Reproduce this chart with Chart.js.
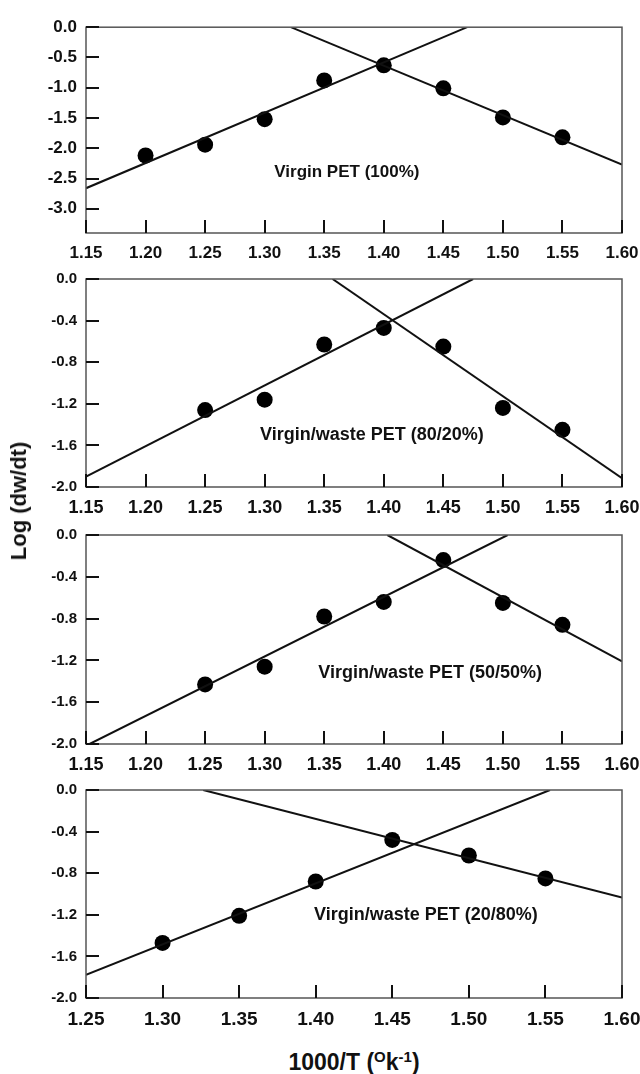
<!DOCTYPE html>
<html lang="en">
<head>
  <meta charset="UTF-8" />
  <title>Log (dw/dt) vs 1000/T</title>
  <script src="https://cdn.jsdelivr.net/npm/chart.js"></script>
  <style>
    html, body { margin: 0; padding: 0; background: #fff; }
    body { width: 640px; height: 1074px; position: relative; overflow: hidden;
           font-family: "Liberation Sans", Arial, sans-serif; color: #111; }
    canvas { position: absolute; left: 0; }
    .title { position: absolute; font-weight: bold; white-space: nowrap; }
    #ytitle { left: 19px; top: 501px; font-size: 22px; transform: translate(-50%, -50%) rotate(-90deg); }
    #xtitle { left: 354px; top: 1062px; font-size: 23px; transform: translate(-50%, -50%); }
    #xtitle sup { font-size: 15px; }
  </style>
</head>
<body>
  <canvas id="p1" width="660" height="261"></canvas>
  <canvas id="p2" width="660" height="262"></canvas>
  <canvas id="p3" width="660" height="263"></canvas>
  <canvas id="p4" width="660" height="262"></canvas>
  <div class="title" id="ytitle">Log (dw/dt)</div>
  <div class="title" id="xtitle">1000/T (<sup>O</sup>k<sup>-1</sup>)</div>

  <script>
    // ticks
    const xTicksA = [1.15, 1.20, 1.25, 1.30, 1.35, 1.40, 1.45, 1.50, 1.55, 1.60];
    const xTicksB = [1.25, 1.30, 1.35, 1.40, 1.45, 1.50, 1.55, 1.60];
    const yTicks100 = [0.0, -0.5, -1.0, -1.5, -2.0, -2.5, -3.0];
    const yTicksMix = [0.0, -0.4, -0.8, -1.2, -1.6, -2.0];

    // measured points
    const temp100 = [1.20, 1.25, 1.30, 1.35, 1.40, 1.45, 1.50, 1.55];
    const rate100 = [-2.12, -1.94, -1.52, -0.88, -0.63, -1.01, -1.49, -1.82];
    const temp8020 = [1.25, 1.30, 1.35, 1.40, 1.45, 1.50, 1.55];
    const rate8020 = [-1.26, -1.16, -0.63, -0.47, -0.65, -1.24, -1.45];
    const temp5050 = [1.25, 1.30, 1.35, 1.40, 1.45, 1.50, 1.55];
    const rate5050 = [-1.43, -1.26, -0.78, -0.64, -0.24, -0.65, -0.86];
    const temp2080 = [1.30, 1.35, 1.40, 1.45, 1.50, 1.55];
    const rate2080 = [-1.47, -1.21, -0.88, -0.48, -0.63, -0.85];

    // fitted lines, [x, y] end points
    const rise100 = [[1.15, -2.66], [1.470, 0.0]];
    const fall100 = [[1.322, 0.0], [1.60, -2.27]];
    const rise8020 = [[1.15, -1.90], [1.475, 0.0]];
    const fall8020 = [[1.357, 0.0], [1.60, -1.916]];
    const rise5050 = [[1.153, -2.0], [1.504, 0.0]];
    const fall5050 = [[1.403, 0.0], [1.60, -1.209]];
    const rise2080 = [[1.25, -1.776], [1.553, 0.0]];
    const fall2080 = [[1.3265, 0.0], [1.60, -1.035]];

    Chart.defaults.font.family = '"Liberation Sans", Arial, sans-serif';
    Chart.defaults.color = '#111';

    // frame + inward tick marks + panel label
    const frameTicks = {
      id: 'frameTicks',
      afterDatasetsDraw(chart, args, opts) {
        const { ctx, chartArea: a, scales: { x, y } } = chart;
        ctx.save();
        ctx.strokeStyle = '#555';
        ctx.lineWidth = 1.5;
        ctx.strokeRect(a.left, a.top, a.right - a.left, a.bottom - a.top);
        ctx.strokeStyle = '#111';
        ctx.lineWidth = 2;
        ctx.beginPath();
        x.ticks.forEach(t => {
          const px = Math.round(x.getPixelForValue(t.value));
          ctx.moveTo(px, a.bottom);
          ctx.lineTo(px, a.bottom - 13);
        });
        y.ticks.forEach(t => {
          const py = Math.round(y.getPixelForValue(t.value));
          ctx.moveTo(a.left, py);
          ctx.lineTo(a.left + 13, py);
        });
        ctx.stroke();
        if (opts.text) {
          ctx.fillStyle = '#111';
          ctx.font = 'bold ' + opts.size + 'px "Liberation Sans", Arial, sans-serif';
          ctx.textAlign = 'center';
          ctx.textBaseline = 'middle';
          ctx.fillText(opts.text, x.getPixelForValue(opts.x), y.getPixelForValue(opts.y));
        }
        ctx.restore();
      }
    };

    function toPts(xs, ys) {
      return xs.map((v, i) => ({ x: v, y: ys[i] }));
    }

    function makePanel(id, top, xs, ys, rise, fall, xTicks, yTicks, xMin, yMin, xFont, yFont, label) {
      const cv = document.getElementById(id);
      cv.style.top = top + 'px';
      const lineSet = pts => ({
        data: pts.map(p => ({ x: p[0], y: p[1] })),
        showLine: true,
        borderColor: '#111',
        borderWidth: 2,
        pointRadius: 0
      });
      new Chart(cv.getContext('2d'), {
        type: 'scatter',
        data: {
          datasets: [
            lineSet(rise),
            lineSet(fall),
            {
              data: toPts(xs, ys),
              pointRadius: 8,
              pointBackgroundColor: '#000',
              pointBorderWidth: 0
            }
          ]
        },
        options: {
          responsive: false,
          animation: false,
          layout: { padding: { top: 12, right: 38, left: 0, bottom: 0 } },
          plugins: {
            legend: { display: false },
            tooltip: { enabled: false },
            frameTicks: label
          },
          scales: {
            x: {
              type: 'linear',
              min: xMin, max: 1.60,
              grid: { display: false, drawTicks: false },
              border: { display: false },
              afterFit: s => { s.height = 36; },
              afterBuildTicks: s => { s.ticks = xTicks.map(v => ({ value: v })); },
              ticks: {
                autoSkip: false, maxRotation: 0, padding: 10,
                font: { size: xFont, weight: 'bold' },
                callback: v => Number(v).toFixed(2)
              }
            },
            y: {
              type: 'linear',
              min: yMin, max: 0,
              grid: { display: false, drawTicks: false },
              border: { display: false },
              afterFit: s => { s.width = 86; },
              afterBuildTicks: s => { s.ticks = yTicks.map(v => ({ value: v })); },
              ticks: {
                autoSkip: false, padding: 9,
                font: { size: yFont, weight: 'bold' },
                callback: v => Number(v).toFixed(1)
              }
            }
          }
        },
        plugins: [frameTicks]
      });
    }

    makePanel('p1', 8, temp100, rate100, rise100, fall100, xTicksA, yTicks100, 1.15, -3.4, 17, 17,
      { text: 'Virgin PET (100%)', x: 1.369, y: -2.39, size: 17 });
    makePanel('p2', 261, temp8020, rate8020, rise8020, fall8020, xTicksA, yTicksMix, 1.15, -2.0, 18, 15,
      { text: 'Virgin/waste PET (80/20%)', x: 1.390, y: -1.505, size: 18 });
    makePanel('p3', 517, temp5050, rate5050, rise5050, fall5050, xTicksA, yTicksMix, 1.15, -2.0, 18, 15,
      { text: 'Virgin/waste PET (50/50%)', x: 1.439, y: -1.325, size: 18 });
    makePanel('p4', 772, temp2080, rate2080, rise2080, fall2080, xTicksB, yTicksMix, 1.25, -2.0, 19, 15,
      { text: 'Virgin/waste PET (20/80%)', x: 1.472, y: -1.20, size: 18 });
  </script>
</body>
</html>
